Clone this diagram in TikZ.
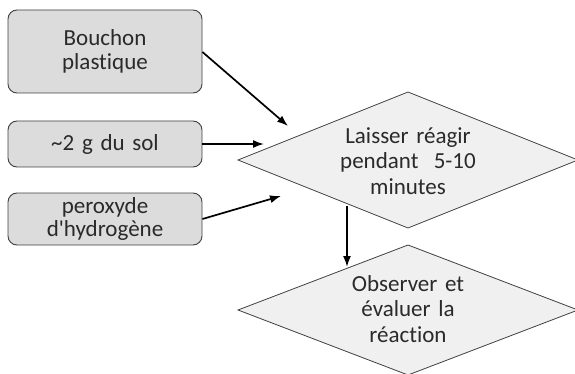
\documentclass[tikz,border=0pt]{standalone}
\usepackage{fontspec}
\setmainfont{Carlito}[Ligatures={NoCommon}, WordSpace=0.8]
\usetikzlibrary{arrows.meta}
\definecolor{boxfill}{HTML}{DCDCDC}
\definecolor{diafill}{HTML}{F0F0F0}
\definecolor{edge}{HTML}{404040}
\definecolor{txt}{HTML}{2A2A2A}
\tikzset{
  inbox/.style={draw=edge, line width=0.9pt, fill=boxfill, rounded corners=9pt,
    minimum width=194pt, text width=185pt, align=center, inner sep=0pt, text=txt,
    font=\fontsize{23}{23.5}\selectfont},
  diashape/.style={draw=edge, line width=0.8pt, fill=diafill},
  dtext/.style={text width=170pt, align=center, text=txt, inner sep=0pt,
    font=\fontsize{23}{25.5}\selectfont},
  flow/.style={-{Latex[length=11pt,width=8pt]}, line width=1.7pt, black}
}
\begin{document}
\begin{tikzpicture}[x=1pt,y=-1pt]
\useasboundingbox (0,0) rectangle (575,374);
\node[inbox, minimum height=83pt] (b1) at (105,51.5) {Bouchon\\plastique};
\node[inbox, minimum height=46pt] (b2) at (105,144) {\textasciitilde 2 g du sol};
\node[inbox, minimum height=52pt] (b3) at (105,219) {peroxyde\\d\textquotesingle hydrogène};
\draw[diashape] (238,160) -- (408,92) -- (578,160) -- (408,228) -- cycle;
\draw[diashape] (238,310) -- (408,245) -- (578,310) -- (408,375) -- cycle;
\node[dtext] (d1) at (408,161) {Laisser réagir\\pendant\ \ 5-10\\minutes};
\node[dtext] (d2) at (408,309) {Observer et\\évaluer la\\réaction};
\coordinate (e1) at (288,126);
\coordinate (e2) at (264,144);
\coordinate (e3) at (281,196);
\coordinate (s4) at (347,206);
\draw[flow] (b1.east |- 0,52) -- (e1);
\draw[flow] (b2.east) -- (e2);
\draw[flow] (b3.east |- 0,219) -- (e3);
\draw[flow] (s4) -- (s4 |- 0,267);
\end{tikzpicture}
\end{document}
